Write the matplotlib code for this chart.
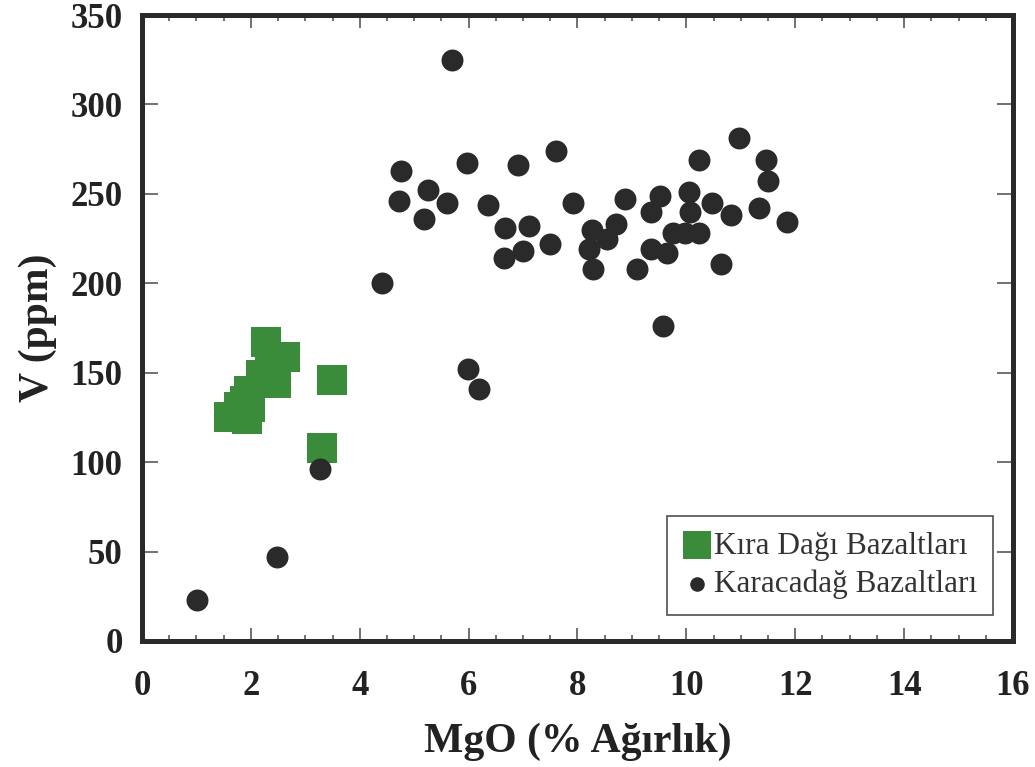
import matplotlib
matplotlib.use("Agg")
import matplotlib.pyplot as plt
from matplotlib.ticker import MultipleLocator

# Kıra Dağı (yeşil kareler)
kira_mgo = [1.60, 1.93, 1.78, 1.98, 1.89, 1.97, 2.19, 2.46, 2.63, 2.28, 2.35, 3.49, 3.31]
kira_v = [125, 124, 131, 131, 134, 140, 149, 144, 159, 167, 152, 146, 108]

# Karacadağ (siyah daireler)
kara_mgo = [1.01, 2.48, 3.27, 4.40, 4.76, 4.72, 5.25, 5.18, 5.60, 5.69, 5.97, 6.36,
            5.99, 6.19, 6.67, 6.65, 6.91, 7.00, 7.11, 7.49, 7.60, 7.92, 8.21, 8.27,
            8.29, 8.55, 8.70, 8.87, 9.10, 9.35, 9.35, 9.52, 9.57, 9.64, 9.75, 9.97,
            10.05, 10.07, 10.23, 10.23, 10.47, 10.64, 10.82, 10.97, 11.33, 11.46, 11.50, 11.85]
kara_v = [23, 47, 96, 200, 263, 246, 252, 236, 245, 325, 267, 244,
          152, 141, 231, 214, 266, 218, 232, 222, 274, 245, 219, 230,
          208, 225, 233, 247, 208, 240, 219, 249, 176, 217, 228, 228,
          251, 240, 269, 228, 245, 211, 238, 281, 242, 269, 257, 234]

plt.rcParams['font.family'] = ['Liberation Serif', 'DejaVu Serif']

fig = plt.figure(figsize=(10.35, 7.67), dpi=100)
ax = fig.add_axes([0.1372, 0.1643, 0.8415, 0.8161])

ax.scatter(kira_mgo, kira_v, marker="s", s=490, color="#3a8b3a", linewidths=0,
           label="Kıra Dağı Bazaltları", zorder=3)
ax.scatter(kara_mgo, kara_v, marker="o", s=250, color="#2a2a2a", linewidths=0,
           label="Karacadağ Bazaltları", zorder=4)

ax.set_xlim(0, 16)
ax.set_ylim(0, 350)
ax.xaxis.set_major_locator(MultipleLocator(2))
ax.xaxis.set_minor_locator(MultipleLocator(0.5))
ax.yaxis.set_major_locator(MultipleLocator(50))

ax.tick_params(axis="x", which="major", direction="in", top=True, bottom=True,
               length=9.5, width=1.3, color="#666666", pad=21, labelsize=25)
ax.tick_params(axis="x", which="minor", direction="in", top=True, bottom=True,
               length=4.5, width=1.3, color="#666666")
ax.tick_params(axis="y", which="major", direction="in", left=True, right=True,
               length=11.5, width=1.3, color="#666666", pad=14, labelsize=25)
for lab in ax.get_xticklabels() + ax.get_yticklabels():
    lab.set_fontweight("bold")
    lab.set_color("#222222")

for sp in ax.spines.values():
    sp.set_linewidth(3.6)
    sp.set_color("#2a2a2a")

ax.set_xlabel("MgO (% Ağırlık)", fontsize=30, fontweight="bold", color="#222222", labelpad=14)
ax.set_ylabel("V (ppm)", fontsize=30, fontweight="bold", color="#222222", labelpad=10)

leg = ax.legend(loc="lower right", bbox_to_anchor=(0.977, 0.0415), borderaxespad=0,
                fancybox=False, fontsize=22.5, handletextpad=0.1, handlelength=0.9,
                borderpad=0.5, labelspacing=0.3, frameon=True)
leg.get_frame().set_edgecolor("#222222")
leg.get_frame().set_linewidth(1.2)
leg.legend_handles[0].set_sizes([420])
leg.legend_handles[1].set_sizes([110])
for t in leg.get_texts():
    t.set_color("#333333")

fig.savefig("out.png", dpi=100)
